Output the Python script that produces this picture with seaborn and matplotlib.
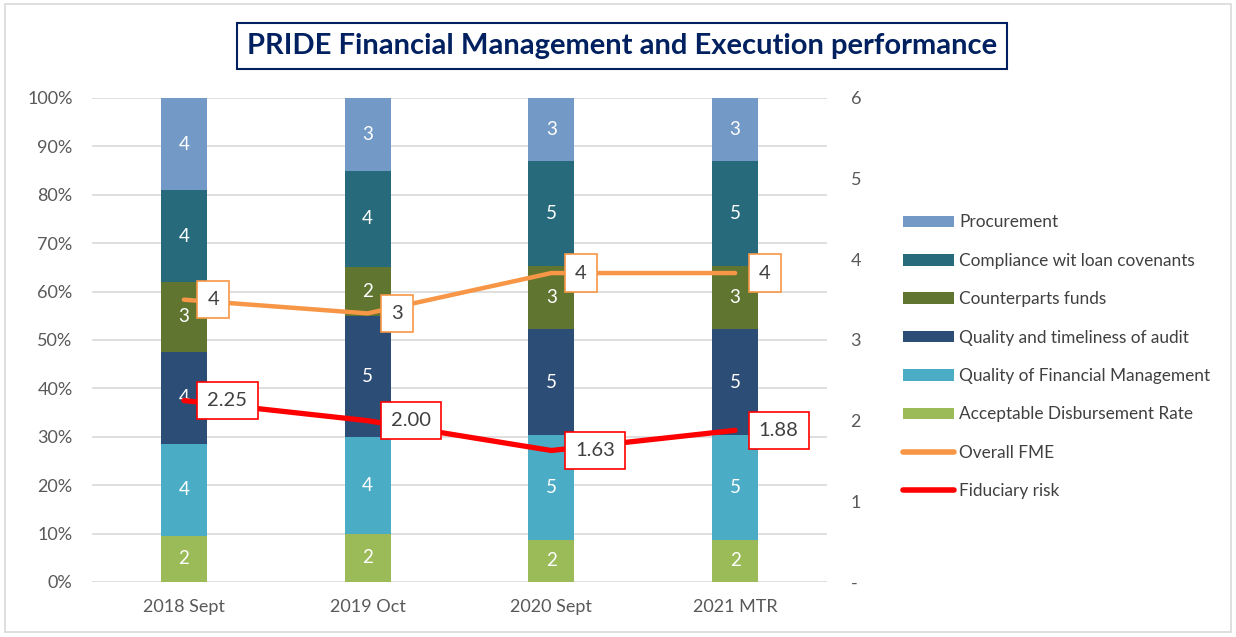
import numpy as np
import pandas as pd
import matplotlib
matplotlib.use("Agg")
import matplotlib.pyplot as plt
import seaborn as sns
from matplotlib.patches import Patch, Rectangle
from matplotlib.lines import Line2D
from matplotlib.ticker import FuncFormatter

categories = ["2018 Sept", "2019 Oct", "2020 Sept", "2021 MTR"]
acceptable = [2, 2, 2, 2]
quality_fm = [4, 4, 5, 5]
audit = [4, 5, 5, 5]
counterparts = [3, 2, 3, 3]
compliance = [4, 4, 5, 5]
procurement = [4, 3, 3, 3]
overall_fme = [3.50, 3.33, 3.83, 3.83]
fiduciary = [2.25, 2.00, 1.63, 1.88]

series_names = ["Acceptable Disbursement Rate", "Quality of Financial Management",
                "Quality and timeliness of audit", "Counterparts funds",
                "Compliance wit loan covenants", "Procurement"]
series_vals = [acceptable, quality_fm, audit, counterparts, compliance, procurement]
colors = ["#9BBB59", "#4BACC6", "#2C4D75", "#5F7530", "#276A7C", "#7399C6"]

sns.set_theme(style="white")
plt.rcParams['font.family'] = ['Lato', 'DejaVu Sans']

fig = plt.figure(figsize=(12.36, 6.37), dpi=100)
ax = fig.add_axes([92/1236, 1-582/637, 735/1236, 484/637])

vals = np.array(series_vals, dtype=float)
totals = vals.sum(axis=0)
cum = np.cumsum(vals, axis=0) / totals
bottoms = np.vstack([np.zeros(len(categories)), cum[:-1]])

# draw cumulative bars from top to bottom so each layer covers the one above
for i in range(len(series_names) - 1, -1, -1):
    sns.barplot(x=categories, y=cum[i], color=colors[i], width=0.25,
                saturation=1, linewidth=0, ax=ax, zorder=2)
    for j in range(len(categories)):
        ax.text(j, (bottoms[i][j] + cum[i][j]) / 2, f"{int(vals[i][j])}",
                ha="center", va="center", color="white", fontsize=13.5, zorder=3)

ax.set_xlim(-0.5, 3.5)
ax.set_ylim(0, 1)
ax.set_yticks(np.arange(0, 1.01, 0.1))
ax.yaxis.set_major_formatter(FuncFormatter(lambda v, p: f"{v*100:.0f}%"))
ax.grid(axis="y", color="#D9D9D9", linewidth=1.2, zorder=0)
ax.set_axisbelow(True)
for s in ax.spines.values():
    s.set_visible(False)
ax.tick_params(axis="y", length=0, pad=14, labelsize=13, labelcolor="#595959")
ax.tick_params(axis="x", length=0, pad=12, labelsize=13, labelcolor="#595959")
ax.set_xlabel("")
ax.set_ylabel("")

ax2 = ax.twinx()
x = np.arange(len(categories))
sns.lineplot(x=x, y=overall_fme, color="#F79646", linewidth=3.2, ax=ax2,
             solid_capstyle="round", zorder=4)
sns.lineplot(x=x, y=fiduciary, color="#FF0000", linewidth=3.8, ax=ax2,
             solid_capstyle="round", zorder=4)
ax2.set_ylim(0, 6)
ax2.set_yticks(range(7))
ax2.yaxis.set_major_formatter(FuncFormatter(lambda v, p: "-" if v == 0 else f"{v:.0f}"))
ax2.tick_params(axis="y", length=0, pad=17, labelsize=13, labelcolor="#595959")
ax2.grid(False)
for s in ax2.spines.values():
    s.set_visible(False)
ax2.set_ylabel("")

for j in range(len(categories)):
    ax2.annotate(f"{overall_fme[j]:.0f}", (x[j], overall_fme[j]), xytext=(17, 0),
                 textcoords="offset points", ha="left", va="center", fontsize=14.5,
                 color="#404040", zorder=5,
                 bbox=dict(boxstyle="square,pad=0.5", fc="white", ec="#F79646", lw=1.2))
    ax2.annotate(f"{fiduciary[j]:.2f}", (x[j], fiduciary[j]), xytext=(17, 0),
                 textcoords="offset points", ha="left", va="center", fontsize=14.5,
                 color="#404040", zorder=5,
                 bbox=dict(boxstyle="square,pad=0.5", fc="white", ec="#FF0000", lw=1.2))

handles = [Patch(facecolor=colors[i], edgecolor="none", label=series_names[i])
           for i in range(len(series_names) - 1, -1, -1)]
handles.append(Line2D([], [], color="#F79646", linewidth=4, solid_capstyle="round", label="Overall FME"))
handles.append(Line2D([], [], color="#FF0000", linewidth=4, solid_capstyle="round", label="Fiduciary risk"))
fig.legend(handles=handles, loc="upper left", bbox_to_anchor=(887/1236, 1-199/637),
           frameon=False, fontsize=12.4, labelcolor="#404040", handlelength=3.0,
           handleheight=0.65, labelspacing=1.3, handletextpad=0.3)

fig.text(622/1236, 1-46/637, "PRIDE Financial Management and Execution performance",
         ha="center", va="center", fontsize=21, fontweight="bold", color="#002060",
         bbox=dict(boxstyle="square,pad=0.35", fc="white", ec="#002060", lw=1.5))

fig.patches.append(Rectangle((5/1236, 5/637), 1226/1236, 628/637, transform=fig.transFigure,
                             fill=False, edgecolor="#D9D9D9", linewidth=1.2))

fig.savefig("out.png", dpi=100)
